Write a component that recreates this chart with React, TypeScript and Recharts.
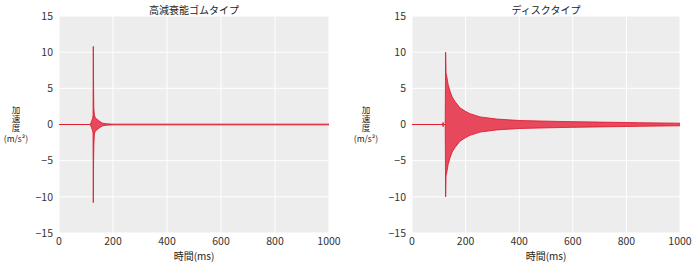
import { ComposedChart, Area, XAxis, YAxis, CartesianGrid, Label } from 'recharts';

const X_TICKS = [0, 200, 400, 600, 800, 1000];
const Y_TICKS = [-15, -10, -5, 0, 5, 10, 15];

// 高減衰能ゴムタイプ: envelope of the response (ms, m/s2)
const RUBBER_TIME = [0, 116, 120, 124, 126, 127, 128, 129, 131, 134, 138, 145, 152, 160, 175, 200, 1000];
const RUBBER_UPPER = [0, 0, 0.4, 0.8, 1.2, 10.8, 5.3, 2.2, 1.3, 1.0, 0.8, 0.6, 0.4, 0.2, 0.1, 0.05, 0.05];
const RUBBER_LOWER = [0, 0, -0.4, -0.8, -1.2, -10.8, -5.4, -3.0, -1.3, -1.0, -0.8, -0.6, -0.4, -0.2, -0.1, -0.05, -0.05];

// ディスクタイプ
const DISC_TIME = [0, 114, 116, 118, 124, 125.5, 127, 130, 135, 142, 150, 160, 179, 198, 216, 254, 316, 403, 552, 700, 850, 1000];
const DISC_UPPER = [0, 0, 0.3, 0, 0, 10, 7.1, 6.6, 5.5, 4.6, 3.8, 3.2, 2.3, 1.85, 1.5, 1.05, 0.75, 0.55, 0.42, 0.33, 0.25, 0.18];
const DISC_LOWER = [0, 0, -0.3, 0, 0, -10, -7.1, -6.6, -5.5, -4.6, -3.8, -3.2, -2.3, -1.85, -1.5, -1.05, -0.75, -0.55, -0.42, -0.33, -0.25, -0.18];

const FONT = '"Noto Sans CJK JP", "Noto Sans", sans-serif';
const RED = '#dc1428';

const toRows = (time: number[], upper: number[], lower: number[]) =>
    time.map((t, i) => ({ time: t, range: [lower[i], upper[i]] }));

const fmt = (v: number) => String(v).replace('-', '\u2212');

interface PanelProps {
    title: string;
    rows: { time: number; range: number[] }[];
    left: number;
    right: number;
}

function Panel({ title, rows, left, right }: PanelProps) {
    const plotCenter = left + (350 - left - right) / 2;
    return (
        <div style={{ position: 'relative', width: 350, height: 268 }}>
            <div style={{
                position: 'absolute', top: 3, left: plotCenter - 100, width: 200, textAlign: 'center',
                fontFamily: FONT, fontSize: 10, color: '#222', lineHeight: '13px'
            }}>
                {title}
            </div>
            {/* y axis title: vertical characters, unit below */}
            <div style={{
                position: 'absolute', top: 106, left: 11, width: 10, height: 27,
                writingMode: 'vertical-rl', fontFamily: FONT, fontSize: 8.5, letterSpacing: '0.5px',
                lineHeight: '10px', color: '#222'
            }}>
                加速度
            </div>
            <div style={{
                position: 'absolute', top: 133, left: 0, width: 32, textAlign: 'center',
                fontFamily: FONT, fontSize: 8.5, lineHeight: '10px', color: '#222'
            }}>
                (m/s²)
            </div>
            <ComposedChart width={350} height={268} data={rows} margin={{ top: 16, right, left: 0, bottom: 0 }}>
                <CartesianGrid stroke="#ffffff" strokeWidth={1} fill="#ededed" />
                <XAxis
                    dataKey="time"
                    type="number"
                    domain={[0, 1000]}
                    ticks={X_TICKS}
                    axisLine={false}
                    tickLine={false}
                    tickSize={0}
                    tickMargin={5}
                    height={35}
                    tick={{ fontFamily: FONT, fontSize: 10.5, fill: '#333' }}
                >
                    <Label value="時間(ms)" position="insideBottom" offset={8}
                        style={{ fontFamily: FONT, fontSize: 10, fill: '#222' }} />
                </XAxis>
                <YAxis
                    type="number"
                    domain={[-15, 15]}
                    ticks={Y_TICKS}
                    width={left}
                    axisLine={false}
                    tickLine={false}
                    tickSize={0}
                    tickMargin={6}
                    tickFormatter={fmt}
                    tick={{ fontFamily: FONT, fontSize: 10.5, fill: '#333' }}
                />
                <Area
                    type="linear"
                    dataKey="range"
                    stroke={RED}
                    strokeWidth={1}
                    strokeOpacity={0.8}
                    fill="#e6354a"
                    fillOpacity={0.9}
                    isAnimationActive={false}
                    dot={false}
                    activeDot={false}
                />
            </ComposedChart>
        </div>
    );
}

export default function App() {
    return (
        <div style={{ position: 'absolute', left: 0, top: 0, display: 'flex', width: 700, height: 268, background: '#fff' }}>
            <Panel title="高減衰能ゴムタイプ" rows={toRows(RUBBER_TIME, RUBBER_UPPER, RUBBER_LOWER)}
                left={59} right={21} />
            <Panel title="ディスクタイプ" rows={toRows(DISC_TIME, DISC_UPPER, DISC_LOWER)}
                left={62} right={20} />
        </div>
    );
}
